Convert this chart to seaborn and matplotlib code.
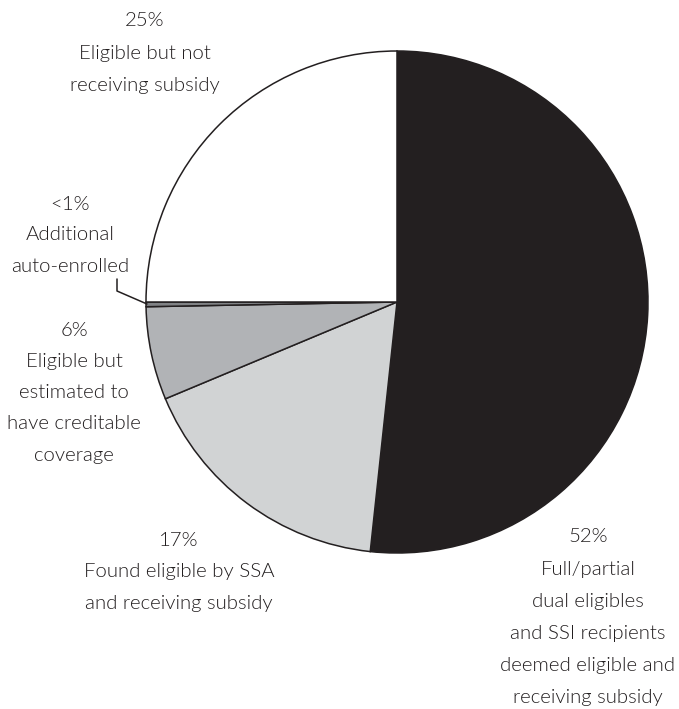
import matplotlib
matplotlib.use("Agg")
import matplotlib.pyplot as plt
import seaborn as sns

# Shares of low-income subsidy population (percent), clockwise from 12 o'clock
segments = [
    "Full/partial dual eligibles and SSI recipients deemed eligible and receiving subsidy",
    "Found eligible by SSA and receiving subsidy",
    "Eligible but estimated to have creditable coverage",
    "Additional auto-enrolled",
    "Eligible but not receiving subsidy",
]
shares = [51.7, 17.0, 6.0, 0.3, 25.0]
share_labels = ["52%", "17%", "6%", "<1%", "25%"]
label_lines = [
    ["Full/partial", "dual eligibles", "and SSI recipients", "deemed eligible and", "receiving subsidy"],
    ["Found eligible by SSA", "and receiving subsidy"],
    ["Eligible but", "estimated to", "have creditable", "coverage"],
    ["Additional", "auto-enrolled"],
    ["Eligible but not", "receiving subsidy"],
]
slice_colors = ["#231f20", "#d1d3d4", "#b1b3b6", "#808285", "#ffffff"]

sns.set_theme(style="white")
plt.rcParams["font.family"] = ["Lato", "DejaVu Sans"]

W, H = 679, 709
fig = plt.figure(figsize=(W / 100, H / 100), dpi=100)
ax = fig.add_axes([0, 0, 1, 1])

cx, cy, r = 397, H - 302, 251
ax.pie(shares, colors=slice_colors, startangle=90, counterclock=False,
       center=(cx, cy), radius=r,
       wedgeprops=dict(edgecolor="#231f20", linewidth=1.1))
ax.set_xlim(0, W)
ax.set_ylim(0, H)
ax.set_aspect("equal")
ax.axis("off")

txt = dict(ha="center", va="center", fontsize=14.7, color="#231f20",
           fontweight=300)
# label block anchors (x, y of first line) and line spacing
anchors = [(588, 537), (179, 541), (74, 330), (70, 204), (145, 21)]
spacing = [32, 31, 31.3, 31, 32]
for pct, lines, (x, y0), dy in zip(share_labels, label_lines, anchors, spacing):
    for i, s in enumerate([pct] + lines):
        ax.text(x, H - (y0 + i * dy), s, **txt)

# leader line for the thin auto-enrolled slice
ax.plot([117, 117, 147], [H - 279, H - 291, H - 304], color="#231f20", lw=1.1)

fig.savefig("out.png", dpi=100, facecolor="white")
